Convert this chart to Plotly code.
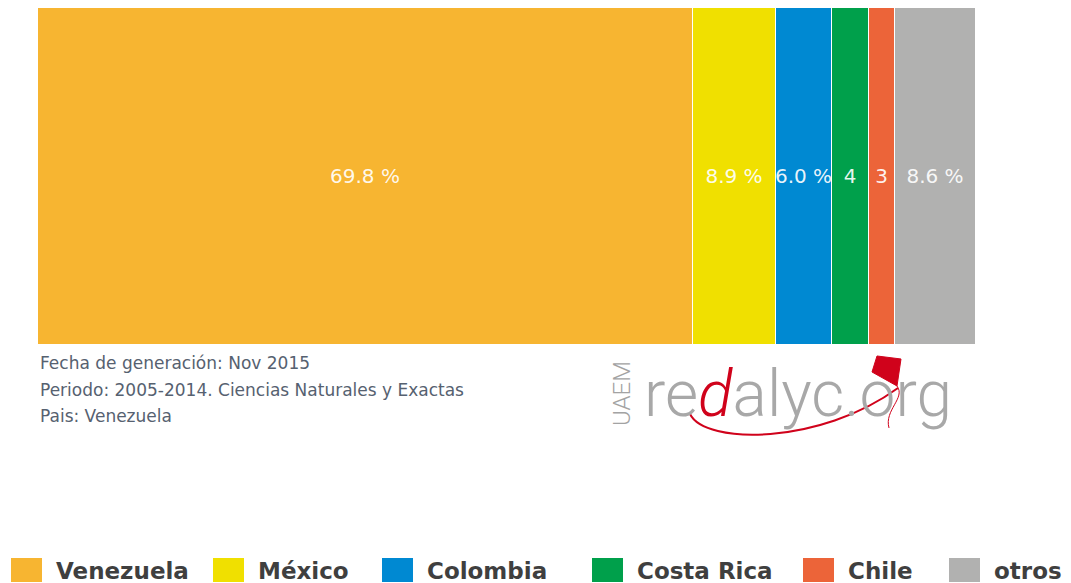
import plotly.graph_objects as go

# ---- data ----
categories = ["Venezuela", "México", "Colombia", "Costa Rica", "Chile", "otros"]
shares = [69.8, 8.9, 6.0, 3.9, 2.8, 8.6]
colors = ["#f7b531", "#f0e000", "#0089d2", "#00a04b", "#ec6439", "#b1b1b0"]
footnotes = [
    "Fecha de generación: Nov 2015",
    "Periodo: 2005-2014. Ciencias Naturales y Exactas",
    "Pais: Venezuela",
]

# ---- layout geometry (target pixels; page body adds an 8px offset) ----
OFF = 8
W, H = 1071 - OFF, 583 - OFF
L, R, T, B = 38 - OFF, 976 - OFF, 8 - OFF, 345 - OFF


def px(x):
    return (x - OFF - L) / (R - L)


def py(y):
    return (B - (y - OFF)) / (B - T)


def label_for(v):
    return f"{v:.1f} %" if v >= 5 else f"{round(v)}"


fig = go.Figure()
for cat, val, col in zip(categories, shares, colors):
    fig.add_trace(go.Bar(
        x=[val], y=[""], orientation="h", name=cat,
        marker=dict(color=col, line=dict(color="white", width=1)),
        text=[label_for(val)], textposition="inside", insidetextanchor="middle",
        textangle=0,
        textfont=dict(family="DejaVu Sans", size=20, color="rgba(255,255,255,0.92)"),
        hoverinfo="skip", showlegend=False,
    ))

annotations = []
shapes = []

# footnotes
for i, t in enumerate(footnotes):
    annotations.append(dict(
        x=px(38), y=py(363 + 26.5 * i), xref="paper", yref="paper",
        xanchor="left", yanchor="middle", showarrow=False, text=t,
        font=dict(family="DejaVu Sans", size=17, color="#566170"),
    ))

# custom legend
swatch_left = [11, 213, 382, 592, 803, 949]
for cat, col, sx in zip(categories, colors, swatch_left):
    shapes.append(dict(
        type="rect", xref="paper", yref="paper",
        x0=px(sx), x1=px(sx + 31), y0=py(582), y1=py(558),
        fillcolor=col, line=dict(width=0), layer="above",
    ))
    annotations.append(dict(
        x=px(sx + 43), y=py(571), xref="paper", yref="paper",
        xanchor="left", yanchor="middle", showarrow=False, text=f"<b>{cat}</b>",
        font=dict(family="DejaVu Sans", size=23, color="#3f3f3f"),
    ))

# logo (decorative)
annotations.append(dict(
    x=px(622), y=py(394), xref="paper", yref="paper", textangle=-90,
    xanchor="center", yanchor="middle", showarrow=False, text="UAEM",
    font=dict(family="Roboto", size=24, color="#a3a3a3", weight=300),
))
annotations.append(dict(
    x=px(642), y=py(394), xref="paper", yref="paper",
    xanchor="left", yanchor="middle", showarrow=False,
    text="re<span style='color:#d0021b'><i>d</i></span>alyc.org",
    font=dict(family="Roboto", size=64, color="#a8a8a8", weight=300),
))


def path(points_cmd):
    out = []
    for tok in points_cmd:
        if isinstance(tok, str):
            out.append(tok)
        else:
            out.append(f"{px(tok[0]):.5f},{py(tok[1]):.5f}")
    return " ".join(out)


# red swoosh
shapes.append(dict(
    type="path", xref="paper", yref="paper",
    path=path(["M", (690, 414), "C", (705, 445), (820, 445), (898, 388)]),
    line=dict(color="#d0021b", width=2), layer="above",
))
# kite
shapes.append(dict(
    type="path", xref="paper", yref="paper",
    path=path(["M", (877, 356), "L", (901, 359), "L", (897, 386), "L", (872, 372), "Z"]),
    fillcolor="#d0021b", line=dict(color="#d0021b", width=1), layer="above",
))
# kite string
shapes.append(dict(
    type="path", xref="paper", yref="paper",
    path=path(["M", (897, 386), "C", (906, 398), (884, 410), (889, 428)]),
    line=dict(color="#d0021b", width=1), layer="above",
))

fig.update_layout(
    width=W, height=H,
    margin=dict(l=L, r=W - R, t=T, b=H - B, pad=0),
    barmode="stack", bargap=0,
    paper_bgcolor="white", plot_bgcolor="white",
    xaxis=dict(range=[0, sum(shares)], visible=False, fixedrange=True),
    yaxis=dict(range=[-0.5, 0.5], visible=False, fixedrange=True),
    uniformtext=dict(minsize=20, mode="show"),
    annotations=annotations, shapes=shapes,
    showlegend=False,
)

fig.write_html("out.html")
